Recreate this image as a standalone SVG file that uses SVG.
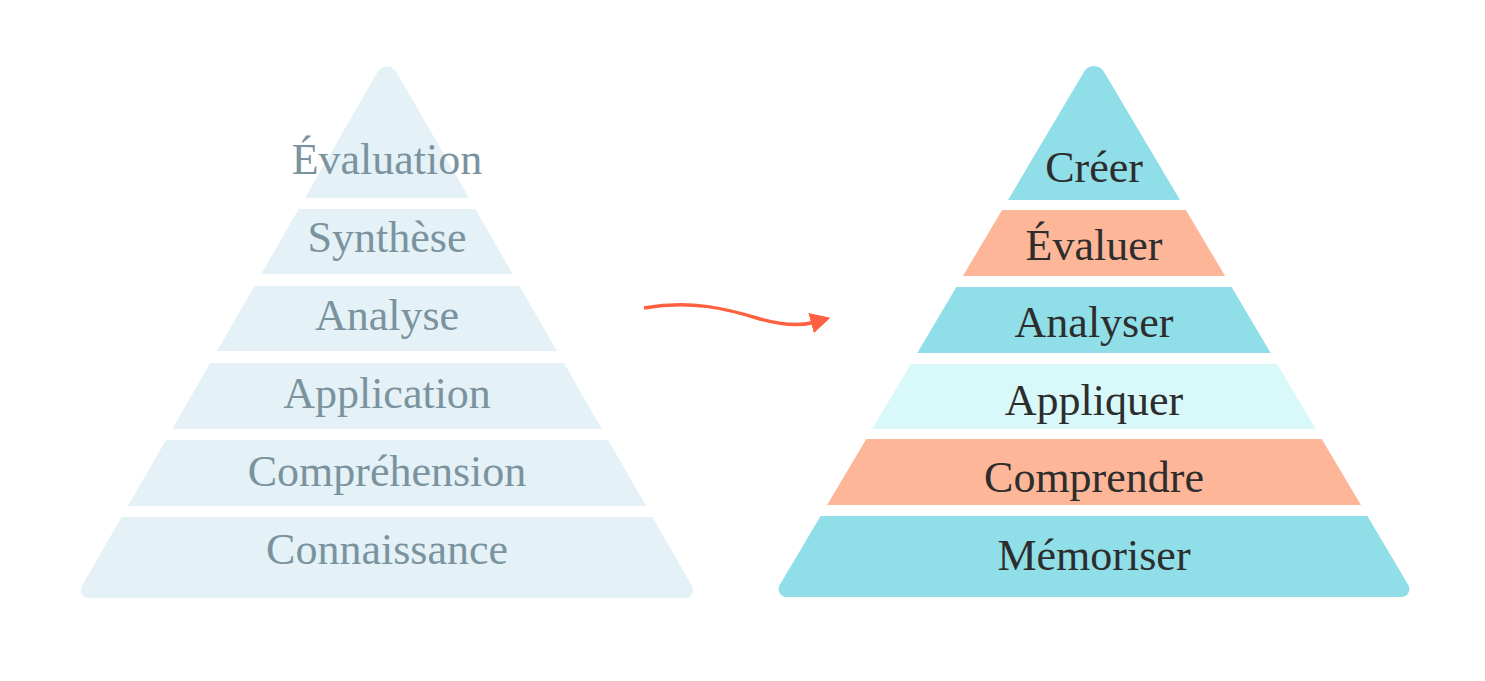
<svg xmlns="http://www.w3.org/2000/svg" width="1485" height="681" viewBox="0 0 1485 681">
<defs>
<style>
.lb{fill:#E4F1F7}
.lt{font-family:"Liberation Serif","Times New Roman",serif;font-size:44px;fill:#7A939E;text-anchor:middle}
.rt{font-family:"Liberation Serif","Times New Roman",serif;font-size:44px;fill:#2D2D2D;text-anchor:middle}
.cy{fill:#8FDEE8}
.sa{fill:#FDB698}
.lc{fill:#D8F8FA}
.arrow{fill:none;stroke:#FF6140;stroke-width:3.5;stroke-linecap:butt}
</style>
<marker id="ah" viewBox="0 0 20 21" refX="2" refY="10.5" markerWidth="20" markerHeight="21" markerUnits="userSpaceOnUse" orient="auto">
<path d="M0,0 L20,10.5 L0,21 Z" fill="#FF6140"/>
</marker>
</defs>
<rect width="1485" height="681" fill="#FFFFFF"/>

<g id="left-pyramid">
<g id="l-evaluation">
<path class="lb" d="M377.5,71.9 A11,11 0 0 1 396.5,71.9 L469,198 L305,198 Z"/>
<text class="lt" x="387" y="174">Évaluation</text>
</g>
<g id="l-synthese">
<path class="lb" d="M298.7,209 L475.3,209 L512.7,274 L261.3,274 Z"/>
<text class="lt" x="387" y="252">Synthèse</text>
</g>
<g id="l-analyse">
<path class="lb" d="M254.4,286 L519.6,286 L557,351 L217,351 Z"/>
<text class="lt" x="387" y="330">Analyse</text>
</g>
<g id="l-application">
<path class="lb" d="M210.1,363 L563.9,363 L601.8,429 L172.2,429 Z"/>
<text class="lt" x="387" y="408">Application</text>
</g>
<g id="l-comprehension">
<path class="lb" d="M165.9,440 L608.1,440 L646.1,506 L127.9,506 Z"/>
<text class="lt" x="387" y="486">Compréhension</text>
</g>
<g id="l-connaissance">
<path class="lb" d="M121.6,517 L652.4,517 L692.1,586 A8,8 0 0 1 685.1,598 L88.9,598 A8,8 0 0 1 81.9,586 Z"/>
<text class="lt" x="387" y="564">Connaissance</text>
</g>
</g>

<g id="connectors">
<path class="arrow" d="M644,308 C690,300 725,308 760,319 C785,326 800,326 813,322.5" marker-end="url(#ah)"/>
</g>

<g id="right-pyramid">
<g id="r-creer">
<path class="cy" d="M1084.1,71.7 A11.5,11.5 0 0 1 1103.9,71.7 L1180,200 L1008,200 Z"/>
<text class="rt" x="1094" y="182">Créer</text>
</g>
<g id="r-evaluer">
<path class="sa" d="M1002.1,210 L1185.9,210 L1225.1,276 L962.9,276 Z"/>
<text class="rt" x="1094" y="259.5">Évaluer</text>
</g>
<g id="r-analyser">
<path class="cy" d="M956.4,287 L1231.6,287 L1270.7,353 L917.3,353 Z"/>
<text class="rt" x="1094" y="337">Analyser</text>
</g>
<g id="r-appliquer">
<path class="lc" d="M910.8,364 L1277.2,364 L1315.8,429 L872.2,429 Z"/>
<text class="rt" x="1094" y="414.5">Appliquer</text>
</g>
<g id="r-comprendre">
<path class="sa" d="M866.3,439 L1321.7,439 L1360.9,505 L827.1,505 Z"/>
<text class="rt" x="1094" y="492">Comprendre</text>
</g>
<g id="r-memoriser">
<path class="cy" d="M820.6,516 L1367.4,516 L1408.3,585 A8,8 0 0 1 1401.4,597 L786.6,597 A8,8 0 0 1 779.7,585 Z"/>
<text class="rt" x="1094" y="569.5">Mémoriser</text>
</g>
</g>
</svg>
